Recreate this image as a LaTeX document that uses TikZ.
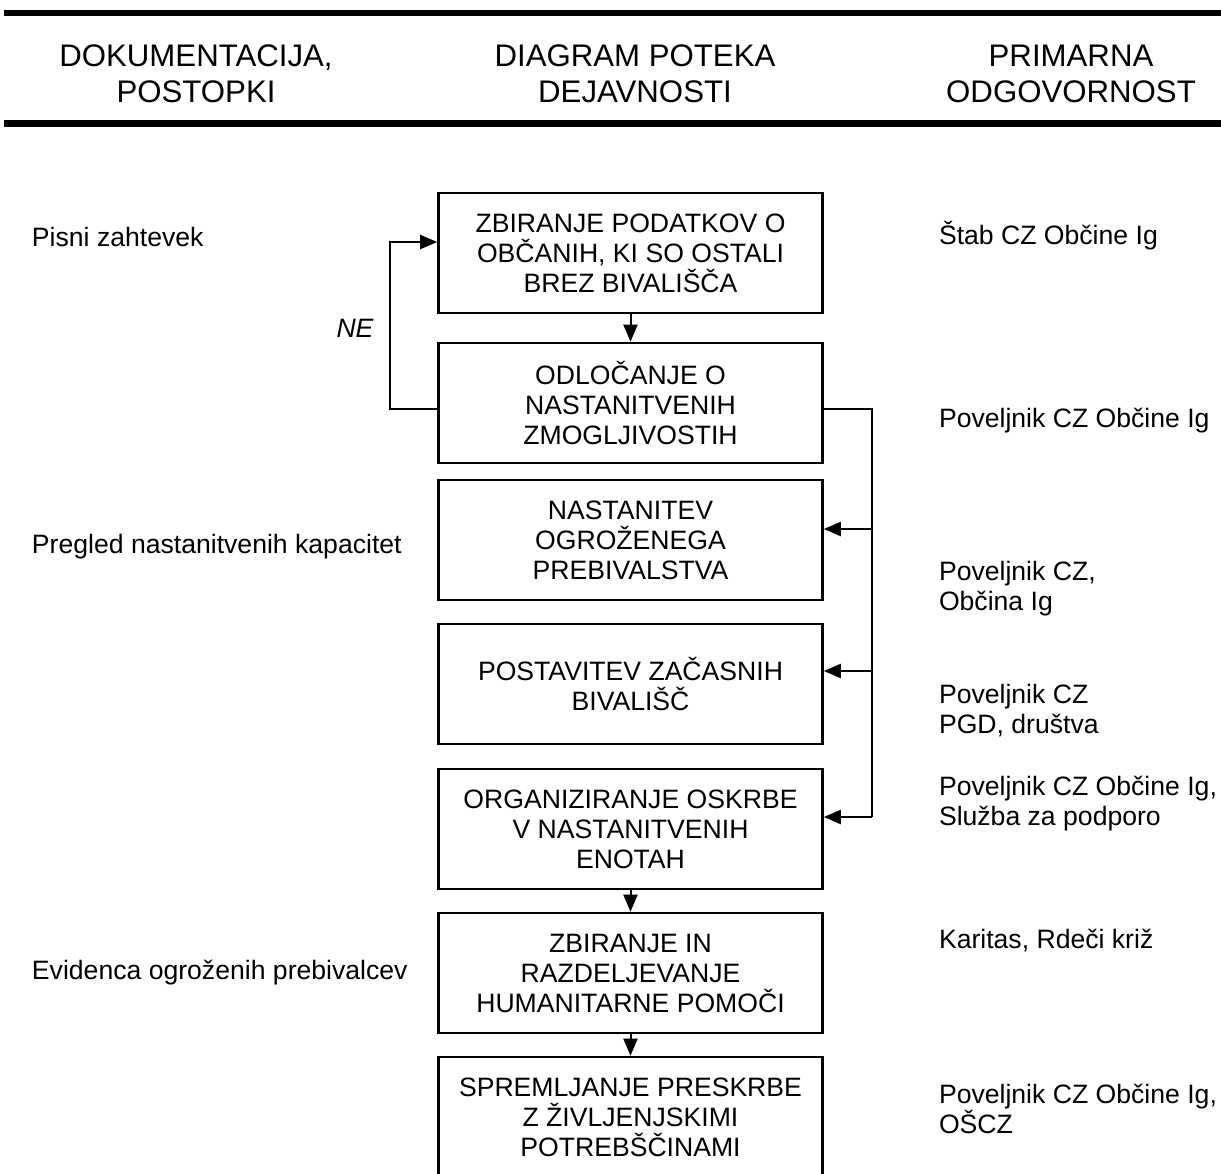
\documentclass[tikz,border=0pt]{standalone}
\usepackage{fontspec}
\setmainfont{Liberation Sans}
\usetikzlibrary{positioning,arrows.meta}

\begin{document}
\begin{tikzpicture}[node distance=72pt,on grid,line width=1pt,
		every node/.style={font=\fontsize{13.3}{15}\selectfont},
		activity/.style={draw,line width=1.3pt,minimum width=192pt,minimum height=60pt,align=center,inner sep=0pt},
		head/.style={align=center,font=\fontsize{15.6}{18}\selectfont},
		note/.style={anchor=west,align=left,inner sep=0pt},
		>={Triangle[length=8.5pt,width=7pt]}]
				\useasboundingbox (0,0) rectangle (610.5pt,-586.5pt);
				\draw[line width=3pt] (2pt,-6.5pt) -- (610.5pt,-6.5pt);
				\draw[line width=3.25pt] (2pt,-61.75pt) -- (610.5pt,-61.75pt);
				\node[head] (h_doc) at (98pt,-37pt) {DOKUMENTACIJA,\\POSTOPKI};
				\node[head] (h_flow) at (317.5pt,-37pt) {DIAGRAM POTEKA\\DEJAVNOSTI};
				\node[head] (h_resp) at (535.5pt,-37pt) {PRIMARNA\\ODGOVORNOST};
				\node[activity] (a_1) at (315.25pt,-126.5pt) {ZBIRANJE PODATKOV O\\OBČANIH, KI SO OSTALI\\BREZ BIVALIŠČA};
				\node[activity] (a_2) [below=75pt of a_1] {ODLOČANJE O\\NASTANITVENIH\\ZMOGLJIVOSTIH};
				\node[activity] (a_3) [below=68.5pt of a_2] {NASTANITEV\\OGROŽENEGA\\PREBIVALSTVA};
				\node[activity] (a_4) [below=of a_3] {POSTAVITEV ZAČASNIH\\BIVALIŠČ};
				\node[activity] (a_5) [below=72.5pt of a_4] {ORGANIZIRANJE OSKRBE\\V NASTANITVENIH\\ENOTAH};
				\node[activity] (a_6) [below=of a_5] {ZBIRANJE IN\\RAZDELJEVANJE\\HUMANITARNE POMOČI};
				\node[activity] (a_7) [below=of a_6] {SPREMLJANJE PRESKRBE\\Z ŽIVLJENJSKIMI\\POTREBŠČINAMI};
				\node[note] (d_1) at (15.5pt,-118.25pt) {Pisni zahtevek};
				\node[note] (d_2) at (15.5pt,-273.5pt) {Pregled nastanitvenih kapacitet};
				\node[note] (d_3) at (15.5pt,-486.2pt) {Evidenca ogroženih prebivalcev};
				\node[note] (r_1) at (469pt,-118pt) {Štab CZ Občine Ig};
				\node[note] (r_2) at (469pt,-210.2pt) {Poveljnik CZ Občine Ig};
				\node[note] (r_3) at (469pt,-294.5pt) {Poveljnik CZ,\\Občina Ig};
				\node[note] (r_4) at (469pt,-355.4pt) {Poveljnik CZ\\PGD, društva};
				\node[note] (r_5) at (469pt,-401.7pt) {Poveljnik CZ Občine Ig,\\Služba za podporo};
				\node[note] (r_6) at (469pt,-470.3pt) {Karitas, Rdeči križ};
				\node[note] (r_7) at (469pt,-554.5pt) {Poveljnik CZ Občine Ig,\\OŠCZ};
				\node[font=\fontsize{13.3}{15}\selectfont\itshape] (ne) at (177.5pt,-164pt) {NE};
				\coordinate (bus) at ([xshift=24pt,yshift=-3pt]a_2.east);
				\coordinate (in_3) at ([yshift=5.5pt]a_3.east);
				\coordinate (in_4) at ([yshift=6.5pt]a_4.east);
				\coordinate (in_5) at ([yshift=6pt]a_5.east);
				\path[->]
				(a_1) edge (a_2)
				(a_5) edge (a_6)
				(a_6) edge (a_7);
				\draw[->] ([yshift=-3pt]a_2.west) -- ++(-23.75pt,0) |- ([yshift=5.5pt]a_1.west);
				\draw ([yshift=-3pt]a_2.east) -- (bus) -- (bus |- in_5);
				\draw[->] (bus |- in_3) -- (in_3);
				\draw[->] (bus |- in_4) -- (in_4);
				\draw[->] (bus |- in_5) -- (in_5);
			\end{tikzpicture}
\end{document}
